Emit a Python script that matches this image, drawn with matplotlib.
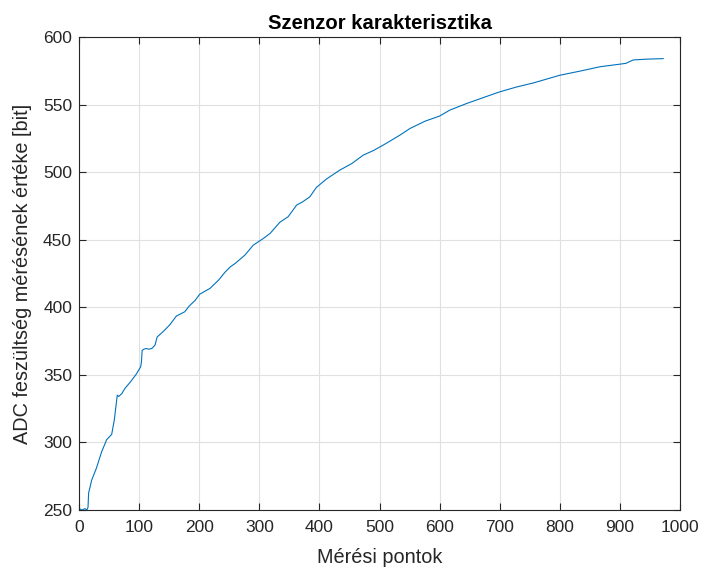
import matplotlib
matplotlib.use("Agg")
import matplotlib.pyplot as plt

x_points = [0, 5, 10, 13, 15, 16, 21, 29, 37.6, 46, 54.4, 58.7, 63.7, 66, 71, 76.5, 86, 96,
            102.6, 104, 105, 108, 111.5, 116, 121, 126.5, 130, 140, 151, 162, 176, 183.5,
            193, 201, 210, 218, 232, 243, 252, 260, 276, 290, 307, 318, 334.4, 348, 362,
            372, 384, 395, 412, 434, 454, 473, 490, 510, 534, 550.7, 575.7, 599.5, 617,
            645, 678, 700, 728, 756, 800, 833, 867, 900, 910, 922, 944, 972]
y_values = [251, 250, 251, 250, 252, 262.5, 272, 281, 293, 302, 306, 316.5, 335, 334, 336, 340,
            345, 351, 356, 360, 368, 369, 369.5, 369, 369.5, 372, 378, 382, 387, 393.5, 396.7,
            401, 405, 409.7, 412, 414, 420, 426, 430, 432.5, 438.6, 446, 451, 454.7, 463, 467,
            475.6, 478, 481.7, 488.7, 495, 501.5, 506.4, 512.6, 516, 521, 527.4, 532.3, 537.7,
            541.4, 545.9, 550.8, 556, 559.4, 563, 566, 571.7, 574.7, 578, 579.9, 580.5, 583,
            583.6, 584]

title_text = "Szenzor karakterisztika"
xlabel_text = "Mérési pontok"
ylabel_text = "ADC feszültség mérésének értéke [bit]"
x_ticks = list(range(0, 1001, 100))
y_ticks = list(range(250, 601, 50))

plt.rcParams['font.family'] = ['Liberation Sans', 'DejaVu Sans']

fig = plt.figure(figsize=(7.02, 5.68), dpi=100)
ax = fig.add_axes([79/702, 1-510/568, (680-79)/702, (510-37)/568])

ax.plot(x_points, y_values, color='#0072BD', linewidth=0.8)

ax.set_xlim(0, 1000)
ax.set_ylim(250, 600)
ax.set_xticks(x_ticks)
ax.set_yticks(y_ticks)
ax.grid(True, color='#e0e0e0', linewidth=0.8)
ax.set_axisbelow(True)

axis_col = '#262626'
for s in ax.spines.values():
    s.set_color(axis_col)
    s.set_linewidth(0.8)
ax.tick_params(direction='in', top=True, right=True, colors=axis_col,
               labelsize=12.5, length=5, width=0.8)
ax.tick_params(axis='x', pad=7.5)
ax.tick_params(axis='y', pad=5)
for lab in ax.get_xticklabels() + ax.get_yticklabels():
    lab.set_color(axis_col)

ax.set_title(title_text, fontsize=14.6, fontweight='bold', color='black', pad=6)
ax.set_xlabel(xlabel_text, fontsize=14.3, color=axis_col, labelpad=9)
ax.set_ylabel(ylabel_text, fontsize=14.3, color=axis_col, labelpad=8)

fig.savefig("out.png", dpi=100)
